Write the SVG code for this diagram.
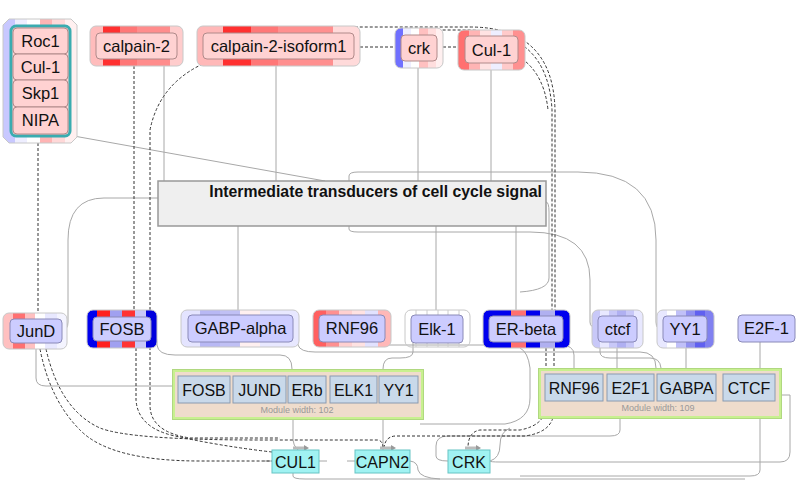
<svg xmlns="http://www.w3.org/2000/svg" width="800" height="486" viewBox="0 0 800 486">
<style>
.lbl{font-family:"Liberation Sans",Arial,sans-serif;font-size:16.5px;fill:#111;text-anchor:middle}
.ml{font-family:"Liberation Sans",Arial,sans-serif;font-size:16px;fill:#111;text-anchor:middle}
.pk{fill:#ffd2d2;stroke:#b08a8a;stroke-width:1}
.lv{fill:#ccccff;stroke:#8a8ab8;stroke-width:1}
.ob{fill:none;stroke:#c8c8c8;stroke-width:1}
.mi{fill:#c9d9ea;stroke:#8a9ab0;stroke-width:1}
.cy{fill:#a0f2f2;stroke:#66c4c4;stroke-width:1}
.g{fill:none;stroke:#a8a8a8;stroke-width:1}
.d{fill:none;stroke:#333;stroke-width:1;stroke-dasharray:3,2}
.mw{font-family:"Liberation Sans",Arial,sans-serif;font-size:9px;fill:#999;text-anchor:middle}
</style>
<defs>
<clipPath id="c-cal"><rect x="90" y="26" width="93" height="40" rx="6"/></clipPath>
<clipPath id="c-iso"><rect x="197" y="26" width="163" height="40" rx="6"/></clipPath>
<clipPath id="c-crk"><rect x="395" y="28" width="48" height="40" rx="6"/></clipPath>
<clipPath id="c-cul"><rect x="458" y="30" width="67" height="40" rx="6"/></clipPath>
<clipPath id="c-jun"><rect x="3" y="313" width="64" height="36" rx="6"/></clipPath>
<clipPath id="c-fos"><rect x="87" y="310" width="70" height="38" rx="6"/></clipPath>
<clipPath id="c-gab"><rect x="181" y="310" width="118" height="37" rx="6"/></clipPath>
<clipPath id="c-rnf"><rect x="313" y="310" width="78" height="37" rx="6"/></clipPath>
<clipPath id="c-erb"><rect x="483" y="310" width="87" height="38" rx="6"/></clipPath>
<clipPath id="c-ctc"><rect x="592" y="310" width="51" height="38" rx="6"/></clipPath>
<clipPath id="c-yy1"><rect x="657" y="310" width="57" height="38" rx="6"/></clipPath>
<clipPath id="c-cx"><polygon points="9,19 71,19 77,25 77,137 71,143 9,143 3,137 3,25"/></clipPath>
</defs>

<g id="connectors">
<path class="g" d="M57 133 L325 181"/>
<path class="g" d="M164 66 V181"/>
<path class="g" d="M276 66 V181"/>
<path class="g" d="M418 68 V181"/>
<path class="g" d="M491 70 V181"/>
<path class="g" d="M238 226 V310"/>
<path class="g" d="M436 226 V310"/>
<path class="g" d="M516 226 V310"/>
<path class="g" d="M349 181 V176 Q349 172 358 172 L578 172 Q656 172 656 240 V322 Q656 330 663 330"/>
<path class="g" d="M349 226 V229 Q349 232 358 232 L530 232 Q590 232 590 280 V322 Q590 328 598 328"/>
<path class="g" d="M546 202 Q549 202 549 212 V278 Q549 290 520 292"/>
<path class="g" d="M158 198 H104 Q68 198 68 240 V322 Q68 330 62 330"/>
<path class="g" d="M36 349 V378 Q36 386 46 386 H172"/>
<path class="g" d="M151 330 Q157 332 157 345 Q158 355 175 355 H280 Q292 355 292 369"/>
<path class="g" d="M293 330 Q298 332 298 345 Q300 352 315 352 H640 Q656 352 656 368"/>
<path class="g" d="M352 342 V344 Q352 345 360 345 H560 Q574 345 574 355 V368"/>
<path class="g" d="M413 343 V352 Q413 358 400 358 H392 Q383 358 383 369"/>
<path class="g" d="M520 348 Q528 352 530 368 V398 Q530 420 505 424 H420"/>
<path class="g" d="M600 342 V352 Q600 358 610 358 H650 Q660 358 661 368"/>
<path class="g" d="M617 342 V368"/>
<path class="g" d="M686 342 V368"/>
<path class="g" d="M760 342 V368"/>
<path class="g" d="M293 420 V440 Q293 445 298 450"/>
<path class="g" d="M383 420 V450"/>
<path class="g" d="M620 419 V430 Q620 436 610 436 H448 Q436 436 436 446 V456 Q436 461 448 461"/>
<path class="g" d="M760 419 V470 Q760 476 750 476 H520"/>
<path class="g" d="M781 395 H790 V452 Q790 462 780 462 H500 Q490 462 490 461"/>
<path class="g" d="M293 473 V476 Q293 479 305 479 H745"/>
<path class="g" d="M410 461 Q418 462 418 470 Q420 478 440 479"/>
<path class="g" d="M490 461 Q500 458 500 445 Q500 432 510 428"/>
<path class="g" d="M264 461 H272"/>
<path class="g" d="M319 461 H327"/>
<path class="g" d="M347 461 H355"/>
<path class="d" d="M360 47 H395"/>
<path class="d" d="M443 47 H458"/>
<path class="d" d="M276 31 Q277 27 290 27 H470 Q553 27 555 110 V310"/>
<path class="d" d="M418 32 Q419 30 428 30 H470 Q548 32 552 110 V310"/>
<path class="d" d="M518 56 Q544 72 548 110"/>
<path class="d" d="M546 348 V405 Q546 425 520 430 H480 Q468 432 468 448"/>
<path class="d" d="M554 348 V410 Q554 432 525 436 H395 Q385 437 384 448"/>
<path class="d" d="M38 143 V313"/>
<path class="d" d="M40 349 Q50 400 80 430 Q110 461 200 461 H272"/>
<path class="d" d="M46 349 Q60 410 100 428 Q130 440 260 440 H378 Q383 441 383 448"/>
<path class="d" d="M134 66 V310"/>
<path class="d" d="M136 348 V400 Q138 428 175 436 Q220 446 272 452"/>
<path class="d" d="M212 60 Q160 80 150 130 V405 Q150 432 190 438 H280"/>
</g>

<g id="complex">
<g clip-path="url(#c-cx)">
<rect x="3" y="19" width="12" height="124" fill="#c8c8ff"/>
<rect x="15" y="19" width="12" height="124" fill="#eeeeff"/>
<rect x="27" y="19" width="13" height="124" fill="#ffffff"/>
<rect x="40" y="19" width="12" height="124" fill="#ffb4b4"/>
<rect x="52" y="19" width="13" height="124" fill="#ffd8d8"/>
<rect x="65" y="19" width="12" height="124" fill="#fff0f0"/>
</g>
<polygon points="9,19 71,19 77,25 77,137 71,143 9,143 3,137 3,25" class="ob"/>
<rect x="11" y="26" width="59" height="110" rx="5" fill="#ffd2d2" stroke="#3aacb0" stroke-width="3"/>
<g id="roc1"><rect x="13" y="28" width="55" height="26" rx="4" class="pk"/><text class="lbl" x="40.5" y="47">Roc1</text></g>
<g id="cul1a"><rect x="13" y="54" width="55" height="26" rx="4" class="pk"/><text class="lbl" x="40.5" y="73">Cul-1</text></g>
<g id="skp1"><rect x="13" y="80" width="55" height="27" rx="4" class="pk"/><text class="lbl" x="40.5" y="99">Skp1</text></g>
<g id="nipa"><rect x="13" y="107" width="55" height="27" rx="4" class="pk"/><text class="lbl" x="40.5" y="126">NIPA</text></g>
</g>

<g id="calpain2">
<g clip-path="url(#c-cal)">
<rect x="90" y="26" width="13" height="40" fill="#ffbcbc"/>
<rect x="103" y="26" width="17" height="40" fill="#ff3030"/>
<rect x="120" y="26" width="17" height="40" fill="#ff7777"/>
<rect x="137" y="26" width="16" height="40" fill="#ff8c8c"/>
<rect x="153" y="26" width="17" height="40" fill="#ff8c8c"/>
<rect x="170" y="26" width="13" height="40" fill="#ffcccc"/>
</g>
<rect x="90" y="26" width="93" height="40" rx="6" class="ob"/>
<rect x="96" y="33" width="81" height="26" rx="4" class="pk"/>
<text class="lbl" x="136.5" y="52">calpain-2</text>
</g>

<g id="calpain2iso">
<g clip-path="url(#c-iso)">
<rect x="197" y="26" width="26" height="40" fill="#ffb8b8"/>
<rect x="223" y="26" width="28" height="40" fill="#ff3030"/>
<rect x="251" y="26" width="27" height="40" fill="#ff7777"/>
<rect x="278" y="26" width="27" height="40" fill="#ff8f8f"/>
<rect x="305" y="26" width="28" height="40" fill="#ff8f8f"/>
<rect x="333" y="26" width="27" height="40" fill="#ffdada"/>
</g>
<rect x="197" y="26" width="163" height="40" rx="6" class="ob"/>
<rect x="203" y="33" width="151" height="26" rx="4" class="pk"/>
<text class="lbl" x="278.5" y="52">calpain-2-isoform1</text>
</g>

<g id="crk">
<g clip-path="url(#c-crk)">
<rect x="395" y="28" width="8" height="40" fill="#7070ff"/>
<rect x="403" y="28" width="8" height="40" fill="#eeeeff"/>
<rect x="411" y="28" width="8" height="40" fill="#ffffff"/>
<rect x="419" y="28" width="9" height="40" fill="#ffc0c0"/>
<rect x="428" y="28" width="8" height="40" fill="#ffdede"/>
<rect x="436" y="28" width="7" height="40" fill="#fff0f0"/>
</g>
<rect x="395" y="28" width="48" height="40" rx="6" class="ob"/>
<rect x="401" y="35" width="36" height="26" rx="4" class="pk"/>
<text class="lbl" x="419" y="54">crk</text>
</g>

<g id="cul1">
<g clip-path="url(#c-cul)">
<rect x="458" y="30" width="11" height="40" fill="#ff7070"/>
<rect x="469" y="30" width="11" height="40" fill="#ffb4b4"/>
<rect x="480" y="30" width="11" height="40" fill="#ffe2e2"/>
<rect x="491" y="30" width="11" height="40" fill="#eeeeff"/>
<rect x="502" y="30" width="11" height="40" fill="#ffcaca"/>
<rect x="513" y="30" width="12" height="40" fill="#ff9090"/>
</g>
<rect x="458" y="30" width="67" height="40" rx="6" class="ob"/>
<rect x="465" y="36" width="53" height="27" rx="4" class="pk"/>
<text class="lbl" x="491.5" y="56">Cul-1</text>
</g>

<g id="intermediate">
<rect x="158" y="181" width="388" height="45" fill="#efefef" stroke="#999" stroke-width="1.5"/>
<text x="542" y="197" font-family="Liberation Sans,Arial,sans-serif" font-size="15.8" font-weight="bold" text-anchor="end" fill="#111">Intermediate transducers of cell cycle signal</text>
</g>

<g id="jund">
<g clip-path="url(#c-jun)">
<rect x="3" y="313" width="10" height="36" fill="#ffc0c0"/>
<rect x="13" y="313" width="12" height="36" fill="#ff7070"/>
<rect x="25" y="313" width="10" height="36" fill="#ffc0c0"/>
<rect x="35" y="313" width="10" height="36" fill="#ffffff"/>
<rect x="45" y="313" width="12" height="36" fill="#e8e8ff"/>
<rect x="57" y="313" width="10" height="36" fill="#f4f4ff"/>
</g>
<rect x="3" y="313" width="64" height="36" rx="6" class="ob"/>
<rect x="10" y="319" width="52" height="24" rx="4" class="lv"/>
<text class="lbl" x="36" y="337">JunD</text>
</g>

<g id="fosb">
<g clip-path="url(#c-fos)">
<rect x="87" y="310" width="10" height="38" fill="#0000ee"/>
<rect x="97" y="310" width="13" height="38" fill="#ff2020"/>
<rect x="110" y="310" width="12" height="38" fill="#a0a0f0"/>
<rect x="122" y="310" width="13" height="38" fill="#ff3333"/>
<rect x="135" y="310" width="11" height="38" fill="#c8c8f8"/>
<rect x="146" y="310" width="11" height="38" fill="#0000dd"/>
</g>
<rect x="87" y="310" width="70" height="38" rx="6" class="ob"/>
<rect x="93" y="317" width="58" height="24" rx="4" class="lv"/>
<text class="lbl" x="122" y="335">FOSB</text>
</g>

<g id="gabp">
<g clip-path="url(#c-gab)">
<rect x="181" y="310" width="19" height="37" fill="#e4e4ff"/>
<rect x="200" y="310" width="20" height="37" fill="#b8b8f4"/>
<rect x="220" y="310" width="20" height="37" fill="#c0c0f4"/>
<rect x="240" y="310" width="20" height="37" fill="#fff0f0"/>
<rect x="260" y="310" width="20" height="37" fill="#e8e8ff"/>
<rect x="280" y="310" width="19" height="37" fill="#e8e8ff"/>
</g>
<rect x="181" y="310" width="118" height="37" rx="6" class="ob"/>
<rect x="188" y="315" width="105" height="27" rx="4" class="lv"/>
<text class="lbl" x="240.5" y="334">GABP-alpha</text>
</g>

<g id="rnf96">
<g clip-path="url(#c-rnf)">
<rect x="313" y="310" width="13" height="37" fill="#ff6060"/>
<rect x="326" y="310" width="13" height="37" fill="#ff9090"/>
<rect x="339" y="310" width="13" height="37" fill="#ffd0d0"/>
<rect x="352" y="310" width="13" height="37" fill="#ffe2e2"/>
<rect x="365" y="310" width="13" height="37" fill="#e2e2ff"/>
<rect x="378" y="310" width="13" height="37" fill="#ffb8b8"/>
</g>
<rect x="313" y="310" width="78" height="37" rx="6" class="ob"/>
<rect x="319" y="315" width="66" height="27" rx="4" class="lv"/>
<text class="lbl" x="352" y="334">RNF96</text>
</g>

<g id="elk1">
<rect x="405" y="310" width="65" height="37" rx="6" fill="#fff" class="ob"/>
<path d="M416 310 V347 M427 310 V347 M438 310 V347 M448 310 V347 M459 310 V347" stroke="#ccc" stroke-width="1"/>
<rect x="411" y="315" width="52" height="28" rx="4" class="lv"/>
<text class="lbl" x="437" y="335">Elk-1</text>
</g>

<g id="erbeta">
<g clip-path="url(#c-erb)">
<rect x="483" y="310" width="28" height="38" fill="#0000ee"/>
<rect x="511" y="310" width="15" height="38" fill="#ff7070"/>
<rect x="526" y="310" width="14" height="38" fill="#0000ee"/>
<rect x="540" y="310" width="15" height="38" fill="#b0b0f0"/>
<rect x="555" y="310" width="15" height="38" fill="#0000ee"/>
</g>
<rect x="483" y="310" width="87" height="38" rx="6" class="ob"/>
<rect x="489" y="316" width="74" height="26" rx="4" class="lv"/>
<text class="lbl" x="526" y="335">ER-beta</text>
</g>

<g id="ctcf">
<g clip-path="url(#c-ctc)">
<rect x="592" y="310" width="8" height="38" fill="#c8c8f8"/>
<rect x="600" y="310" width="9" height="38" fill="#e8e8ff"/>
<rect x="609" y="310" width="8" height="38" fill="#c8c8f8"/>
<rect x="617" y="310" width="9" height="38" fill="#b0b0f2"/>
<rect x="626" y="310" width="8" height="38" fill="#c8c8f8"/>
<rect x="634" y="310" width="9" height="38" fill="#e8e8ff"/>
</g>
<rect x="592" y="310" width="51" height="38" rx="6" class="ob"/>
<rect x="598" y="316" width="39" height="26" rx="4" class="lv"/>
<text class="lbl" x="617.5" y="335">ctcf</text>
</g>

<g id="yy1">
<g clip-path="url(#c-yy1)">
<rect x="657" y="310" width="10" height="38" fill="#e8e8ff"/>
<rect x="667" y="310" width="9" height="38" fill="#ffffff"/>
<rect x="676" y="310" width="10" height="38" fill="#c0c0f8"/>
<rect x="686" y="310" width="9" height="38" fill="#9090f0"/>
<rect x="695" y="310" width="10" height="38" fill="#6060f0"/>
<rect x="705" y="310" width="9" height="38" fill="#8080f0"/>
</g>
<rect x="657" y="310" width="57" height="38" rx="6" class="ob"/>
<rect x="663" y="316" width="44" height="26" rx="4" class="lv"/>
<text class="lbl" x="685" y="335">YY1</text>
</g>

<g id="e2f1">
<rect x="738" y="315" width="57" height="27" rx="4" class="lv"/>
<text class="lbl" x="766.5" y="334">E2F-1</text>
</g>

<g id="module1">
<rect x="172.5" y="369.5" width="251" height="50" fill="#c8f090" stroke="#b0d880"/>
<rect x="175" y="372" width="246" height="45" fill="#efdccc"/>
<rect x="178" y="376" width="52" height="27" class="mi"/><text class="ml" x="204" y="396">FOSB</text>
<rect x="233" y="376" width="53" height="27" class="mi"/><text class="ml" x="259.5" y="396">JUND</text>
<rect x="288" y="376" width="38" height="27" class="mi"/><text class="ml" x="307" y="396">ERb</text>
<rect x="330" y="376" width="47" height="27" class="mi"/><text class="ml" x="353.5" y="396">ELK1</text>
<rect x="379" y="376" width="39" height="27" class="mi"/><text class="ml" x="398.5" y="396">YY1</text>
<text class="mw" x="297" y="413">Module width: 102</text>
</g>

<g id="module2">
<rect x="538.5" y="368.5" width="243" height="50" fill="#c8f090" stroke="#b0d880"/>
<rect x="541" y="371" width="238" height="45" fill="#efdccc"/>
<rect x="545" y="374" width="58" height="27" class="mi"/><text class="ml" x="574" y="394">RNF96</text>
<rect x="607" y="374" width="47" height="27" class="mi"/><text class="ml" x="630.5" y="394">E2F1</text>
<rect x="657" y="374" width="59" height="27" class="mi"/><text class="ml" x="686.5" y="394">GABPA</text>
<rect x="723" y="374" width="52" height="27" class="mi"/><text class="ml" x="749" y="394">CTCF</text>
<text class="mw" x="658" y="411">Module width: 109</text>
</g>

<g id="CUL1">
<path d="M293 448 H305" stroke="#bbb" stroke-width="3"/><path d="M304 445 L309 448 L304 451 Z" fill="#999"/>
<rect x="272" y="450" width="47" height="23" class="cy"/>
<text class="ml" x="295.5" y="468">CUL1</text>
</g>
<g id="CAPN2">
<path d="M380 448 H392" stroke="#bbb" stroke-width="3"/><path d="M391 445 L396 448 L391 451 Z" fill="#999"/>
<rect x="355" y="450" width="55" height="23" class="cy"/>
<text class="ml" x="382.5" y="468">CAPN2</text>
</g>
<g id="CRK">
<path d="M465 448 H477" stroke="#bbb" stroke-width="3"/><path d="M476 445 L481 448 L476 451 Z" fill="#999"/>
<rect x="448" y="450" width="42" height="23" class="cy"/>
<text class="ml" x="469" y="468">CRK</text>
</g>
</svg>
